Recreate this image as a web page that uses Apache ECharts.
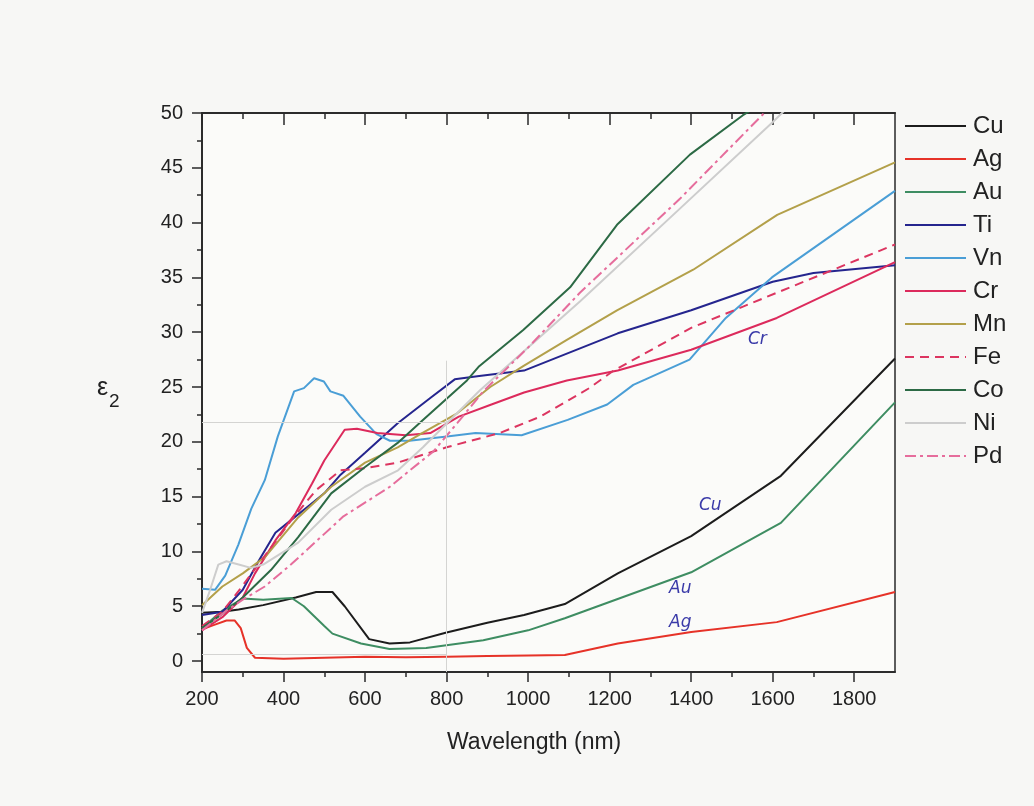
<!DOCTYPE html>
<html>
<head>
<meta charset="utf-8">
<title>ε2 vs wavelength</title>
<script src="https://cdn.jsdelivr.net/npm/echarts@6/dist/echarts.min.js"></script>
<style>
  html, body { margin: 0; padding: 0; background: #f7f7f5; }
  #chart { width: 1034px; height: 806px; }
</style>
</head>
<body>
<div id="chart"></div>
<script>
// Imaginary part of the dielectric function (ε2) against wavelength, [nm, ε2]
const cu = [[200,4.4],[250,4.5],[290,4.7],[350,5.1],[430,5.8],[480,6.3],[520,6.3],[550,5.0],[610,2.0],[660,1.6],[710,1.7],[800,2.6],[900,3.5],[990,4.2],[1090,5.2],[1220,8.0],[1400,11.4],[1620,16.9],[1900,27.6]];
const ag = [[200,2.9],[230,3.3],[260,3.7],[280,3.7],[295,3.0],[310,1.2],[330,0.3],[400,0.2],[500,0.3],[600,0.4],[700,0.35],[800,0.4],[900,0.45],[1000,0.5],[1090,0.55],[1220,1.6],[1400,2.65],[1610,3.55],[1900,6.3]];
const au = [[200,3.0],[250,4.6],[300,5.7],[350,5.6],[420,5.75],[450,5.0],[500,3.2],[520,2.5],[590,1.6],[660,1.1],[750,1.2],[890,1.9],[1000,2.8],[1090,3.9],[1400,8.1],[1620,12.6],[1900,23.6]];
const ti = [[200,4.2],[250,4.5],[300,6.5],[340,9.2],[380,11.7],[420,12.9],[460,14.1],[500,15.3],[540,17.0],[600,19.0],[680,21.7],[760,24.0],[820,25.7],[880,26.0],[990,26.5],[1220,29.9],[1400,32.0],[1600,34.6],[1700,35.4],[1900,36.1]];
const vn = [[200,6.6],[232,6.5],[257,7.8],[289,10.6],[321,13.9],[354,16.5],[386,20.5],[426,24.6],[450,24.9],[475,25.8],[499,25.5],[515,24.6],[547,24.2],[588,22.3],[628,20.7],[661,20.1],[709,20.1],[806,20.5],[871,20.8],[984,20.6],[1097,22.0],[1194,23.4],[1258,25.2],[1396,27.5],[1485,31.3],[1598,35.0],[1900,42.9]];
const cr = [[200,2.8],[250,4.0],[300,5.8],[330,8.0],[380,11.0],[430,13.5],[470,16.2],[500,18.3],[550,21.1],[580,21.2],[630,20.8],[700,20.6],[760,20.8],[830,22.3],[910,23.4],[990,24.5],[1095,25.6],[1220,26.5],[1400,28.4],[1610,31.3],[1900,36.4]];
const mn = [[200,5.1],[250,6.8],[300,8.0],[355,9.5],[436,13.1],[517,15.9],[600,18.1],[680,19.5],[740,20.8],[826,22.6],[907,25.0],[988,26.9],[1095,29.3],[1218,32.0],[1405,35.7],[1611,40.7],[1900,45.5]];
const fe = [[200,3.2],[250,4.5],[290,6.4],[350,9.4],[420,12.9],[480,15.6],[540,17.4],[600,17.6],[680,18.1],[800,19.5],[930,20.8],[1030,22.3],[1150,24.9],[1210,26.5],[1400,30.4],[1610,33.6],[1900,38.0]];
const co = [[200,3.0],[250,4.3],[300,5.8],[369,8.3],[436,11.3],[517,15.3],[600,17.7],[680,19.9],[742,22.0],[850,25.6],[880,26.9],[988,30.2],[1103,34.1],[1218,39.8],[1397,46.2],[1527,49.8],[1600,51.5]];
const ni = [[200,4.4],[220,6.5],[240,8.8],[260,9.1],[290,8.8],[320,8.5],[350,8.8],[436,10.8],[517,13.8],[600,15.9],[681,17.4],[742,19.5],[882,24.7],[1127,32.8],[1373,41.3],[1601,49.2],[1650,51.0]];
const pd = [[200,2.8],[260,4.6],[300,5.6],[354,6.8],[418,8.8],[547,13.2],[661,15.9],[710,17.4],[767,19.1],[826,21.7],[890,24.6],[1000,28.6],[1127,33.6],[1373,42.2],[1574,49.8],[1620,51.5]];

const names = ['Cu','Ag','Au','Ti','Vn','Cr','Mn','Fe','Co','Ni','Pd'];
const values = [cu, ag, au, ti, vn, cr, mn, fe, co, ni, pd];
const colors = ['#1c1c1c','#e63228','#3e8d62','#25258e','#4a9ed6','#dc2a5c','#b3a04a','#dc3560','#2c6a45','#cdcdcd','#e66d9c'];
const dashes = ['solid','solid','solid','solid','solid','solid','solid',[9,6],'solid','solid',[11,4,3,4]];

// Axis tick positions
const yMajor = [0,5,10,15,20,25,30,35,40,45,50];
const yMinor = [2.5,7.5,12.5,17.5,22.5,27.5,32.5,37.5,42.5,47.5];
const xMajor = [200,400,600,800,1000,1200,1400,1600,1800];
const xMinor = [300,500,700,900,1100,1300,1500,1700];

// Faint pencil guide lines on the sheet
const guideH = [[[200,21.8],[800,21.8]], [[200,0.6],[800,0.6]]];
const guideV = [[[800,27.4],[800,-1]]];

// Handwritten annotations
const notes = [
  { text: 'Cr', x: 748, y: 331 },
  { text: 'Cu', x: 699, y: 497 },
  { text: 'Au', x: 669, y: 580 },
  { text: 'Ag', x: 669, y: 614 }
];

const axisColor = '#2a2a2a';
const font = '"Liberation Sans", Arial, sans-serif';
const tickLine = { color: axisColor, width: 1.5 };

const series = names.map((n, i) => ({
  name: n,
  type: 'line',
  data: values[i],
  xAxisIndex: 0,
  yAxisIndex: 0,
  showSymbol: false,
  symbol: 'none',
  clip: true,
  z: 3,
  lineStyle: { color: colors[i], width: 2, type: dashes[i] },
  itemStyle: { color: colors[i] }
}));

series.unshift({
  type: 'line',
  data: [],
  xAxisIndex: 0,
  yAxisIndex: 0,
  silent: true,
  z: 1,
  markLine: {
    silent: true,
    symbol: 'none',
    label: { show: false },
    lineStyle: { color: '#d4d4d2', width: 1, type: 'solid' },
    data: guideH.concat(guideV).map(seg => [{ coord: seg[0] }, { coord: seg[1] }])
  }
});

function xAxisDef(position, ticks, len, inside, labels) {
  return {
    type: 'value', position: position, min: 200, max: 1900,
    axisLine: { show: true, onZero: false, lineStyle: tickLine },
    axisTick: { show: true, inside: inside, length: len, customValues: ticks, lineStyle: tickLine },
    axisLabel: labels
      ? { customValues: xMajor, fontSize: 20, color: '#222', margin: 17, fontFamily: font, formatter: v => String(v) }
      : { show: false },
    splitLine: { show: false }
  };
}

function yAxisDef(ticks, len, labels) {
  return {
    type: 'value', position: 'left', min: -1, max: 50,
    axisLine: { show: true, onZero: false, lineStyle: tickLine },
    axisTick: { show: true, inside: false, length: len, customValues: ticks, lineStyle: tickLine },
    axisLabel: labels
      ? { customValues: yMajor, fontSize: 20, color: '#222', margin: 19, fontFamily: font }
      : { show: false },
    splitLine: { show: false }
  };
}

const chart = echarts.init(document.getElementById('chart'), null, { renderer: 'canvas' });

chart.setOption({
  backgroundColor: '#f7f7f5',
  animation: false,
  textStyle: { fontFamily: font },
  grid: {
    left: 202, right: 139, top: 113, bottom: 134,
    show: true, backgroundColor: '#fbfbf9',
    borderColor: axisColor, borderWidth: 1.5
  },
  legend: {
    data: names,
    orient: 'vertical',
    left: 904, top: 114,
    itemWidth: 61, itemHeight: 12, itemGap: 9,
    padding: 0,
    itemStyle: { opacity: 0 },
    textStyle: { fontSize: 24, color: '#222', lineHeight: 24, fontFamily: font, padding: [0, 0, 0, 2] }
  },
  xAxis: [
    xAxisDef('bottom', xMajor, 10, false, true),
    xAxisDef('bottom', xMinor, 5, false, false),
    xAxisDef('top', xMajor, 12, true, false),
    xAxisDef('top', xMinor, 6, true, false)
  ],
  yAxis: [
    yAxisDef(yMajor, 10, true),
    yAxisDef(yMinor, 5, false)
  ],
  series: series,
  graphic: [
    {
      type: 'text', left: 447, top: 731,
      style: { text: 'Wavelength (nm)', fontSize: 23, fill: '#222', fontFamily: font }
    },
    {
      type: 'text', left: 97, top: 376,
      style: { text: 'ε', fontSize: 25, fill: '#222', fontFamily: font }
    },
    {
      type: 'text', left: 109, top: 392,
      style: { text: '2', fontSize: 19, fill: '#222', fontFamily: font }
    }
  ].concat(notes.map(n => ({
    type: 'text', left: n.x, top: n.y, z: 10,
    style: { text: n.text, fontSize: 17, fill: '#3a3aa8', fontStyle: 'italic', fontWeight: 'lighter', fontFamily: '"DejaVu Sans", sans-serif' }
  })))
});
</script>
</body>
</html>
